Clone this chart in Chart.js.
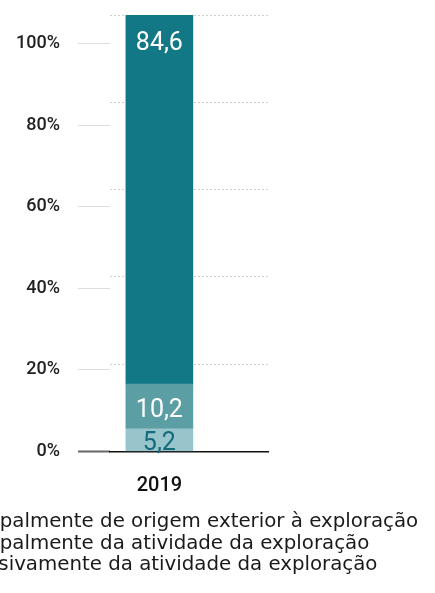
<!DOCTYPE html>
<html>
<head>
<meta charset="utf-8">
<script src="https://cdn.jsdelivr.net/npm/chart.js@4.4.1/dist/chart.umd.min.js"></script>
<style>
  html, body { margin: 0; padding: 0; background: #fff; overflow: hidden; }
  /* canvas starts left of the window so the legend boxes fall outside, as in the source */
  .wrap { position: absolute; left: -86px; top: 0; width: 521px; height: 593px; }
</style>
</head>
<body>
<div class="wrap"><canvas id="chart"></canvas></div>
<script>
/* ─── Data ──────────────────────────────────────────────────────────────── */

const years = [2019];
const seriesNames = [
    'Exclusivamente da atividade da exploração',
    'Principalmente da atividade da exploração',
    'Principalmente de origem exterior à exploração'
];
const exclusivamente    = [5.2];
const principalAtiv     = [10.2];
const principalExterior = [84.6];
const yTicks = [0, 20, 40, 60, 80, 100];

/* ─── Styles ────────────────────────────────────────────────────────────── */

const colors      = ['#98c5cb', '#5b9ea4', '#137886'];
const labelColors = ['#14697a', '#ffffff', '#ffffff'];
const font = 'Roboto';

const toPts = vals => vals.map((v, i) => ({ x: years[i], y: v }));
const fmt = v => v.toFixed(1).replace('.', ',');

/* ─── Value labels drawn on the segments ───────────────────────────────── */

const barLabels = {
    id: 'barLabels',
    afterDatasetsDraw(chart) {
        const ctx = chart.ctx;
        ctx.save();
        ctx.font = `25px ${font}`;
        ctx.textAlign = 'center';
        ctx.textBaseline = 'middle';
        chart.data.datasets.forEach((ds, di) => {
            chart.getDatasetMeta(di).data.forEach((el, i) => {
                const v = ds.data[i].y;
                const y = di === 2 ? el.y + 29 : (el.y + el.base) / 2 + 4;
                ctx.fillStyle = labelColors[di];
                ctx.fillText(fmt(v), el.x, y);
            });
        });
        ctx.restore();
    }
};

/* ─── Chart ─────────────────────────────────────────────────────────────── */

const sets = [exclusivamente, principalAtiv, principalExterior];

new Chart(document.getElementById('chart'), {
    type: 'bar',
    data: {
        datasets: sets.map((vals, i) => ({
            label: seriesNames[i],
            data: toPts(vals),
            backgroundColor: colors[i],
            borderWidth: 0,
            barThickness: 67
        }))
    },
    options: {
        responsive: true,
        maintainAspectRatio: false,
        animation: false,
        layout: { padding: { left: 0, right: 0, top: 15, bottom: 8.1 } },
        plugins: {
            tooltip: { enabled: false },
            legend: {
                position: 'bottom',
                align: 'start',
                reverse: true,
                labels: { font: { family: 'DejaVu Sans', size: 19.8 }, color: '#1a1a1a', boxWidth: 20, padding: 1.7 }
            }
        },
        scales: {
            x: {
                type: 'linear',
                stacked: true,
                offset: false,
                min: 2018,
                max: 2021.2,
                afterBuildTicks: s => { s.ticks = years.map(v => ({ value: v })); },
                afterFit: s => { s.height = 59; },
                ticks: { font: { family: font, size: 20, weight: '500' }, color: '#111', padding: 23, callback: v => String(v) },
                grid: { drawOnChartArea: false, drawTicks: false },
                border: { display: true, color: '#111', width: 1.5 }
            },
            y: {
                stacked: true,
                min: 0,
                max: 100,
                afterBuildTicks: s => { s.ticks = yTicks.map(v => ({ value: v })); },
                afterFit: s => { s.width = 0; },
                ticks: { display: false },
                grid: { color: '#cfcfcf', drawTicks: false },
                border: { display: false, dash: [2, 2] }
            },
            yl: {
                position: 'left',
                min: 0,
                max: 107.1,
                afterBuildTicks: s => { s.ticks = yTicks.map(v => ({ value: v })); },
                afterFit: s => { s.width = 196; s.paddingTop = 0; s.paddingBottom = 0; },
                ticks: { font: { family: font, size: 18, weight: '500' }, color: '#222', padding: 18, callback: v => v + '%' },
                grid: {
                    drawOnChartArea: false,
                    tickLength: 32,
                    tickColor: ctx => ctx.tick && ctx.tick.value === 0 ? '#666' : '#dddddd',
                    tickWidth: ctx => ctx.tick && ctx.tick.value === 0 ? 2 : 1
                },
                border: { display: false }
            },
            // empty right-hand axis that only reserves the space right of the plot
            spacer: {
                position: 'right',
                afterFit: s => { s.width = 167; s.paddingTop = 0; s.paddingBottom = 0; },
                ticks: { display: false },
                grid: { display: false, drawTicks: false },
                border: { display: false }
            }
        }
    },
    plugins: [barLabels]
});
</script>
</body>
</html>
